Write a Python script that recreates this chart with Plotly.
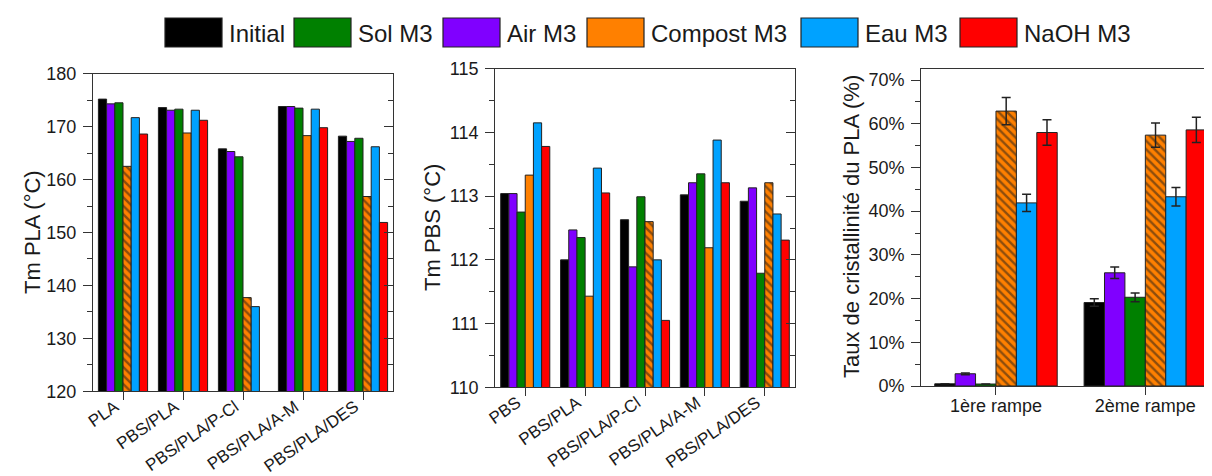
import plotly.graph_objects as go

# ---------------- data ----------------
series_bar_order = ["Initial", "Air M3", "Sol M3", "Compost M3", "Eau M3", "NaOH M3"]
series_legend_order = ["Initial", "Sol M3", "Air M3", "Compost M3", "Eau M3", "NaOH M3"]

# Panel 1 : Tm PLA (°C)
categories_pla = ["PLA", "PBS/PLA", "PBS/PLA/P-Cl", "PBS/PLA/A-M", "PBS/PLA/DES"]
tm_pla_initial = [175.2, 173.6, 165.8, 173.8, 168.2]
tm_pla_air = [174.3, 173.1, 165.3, 173.8, 167.2]
tm_pla_sol = [174.5, 173.3, 164.3, 173.5, 167.8]
tm_pla_compost = [162.5, 168.8, 137.7, 168.3, 156.8]
tm_pla_eau = [171.7, 173.1, 136.0, 173.3, 166.2]
tm_pla_naoh = [168.6, 171.2, None, 169.8, 151.9]
tm_pla_compost_hatched = [True, False, True, False, True]

# Panel 2 : Tm PBS (°C)
categories_pbs = ["PBS", "PBS/PLA", "PBS/PLA/P-Cl", "PBS/PLA/A-M", "PBS/PLA/DES"]
tm_pbs_initial = [113.04, 112.00, 112.63, 113.02, 112.92]
tm_pbs_air = [113.04, 112.47, 111.89, 113.21, 113.13]
tm_pbs_sol = [112.75, 112.35, 112.99, 113.35, 111.79]
tm_pbs_compost = [113.33, 111.43, 112.60, 112.19, 113.21]
tm_pbs_eau = [114.15, 113.44, 112.00, 113.88, 112.72]
tm_pbs_naoh = [113.78, 113.05, 111.05, 113.21, 112.31]
tm_pbs_compost_hatched = [False, False, True, False, True]

# Panel 3 : Taux de cristallinité du PLA (%)
ramps = ["1ère rampe", "2ème rampe"]
xc_initial = [0.5, 19.1]
xc_initial_err = [None, 0.85]
xc_air = [2.8, 25.9]
xc_air_err = [0.2, 1.3]
xc_sol = [0.45, 20.3]
xc_sol_err = [None, 1.0]
xc_compost = [62.9, 57.4]
xc_compost_err = [3.1, 2.8]
xc_eau = [41.9, 43.3]
xc_eau_err = [2.0, 2.1]
xc_naoh = [58.0, 58.6]
xc_naoh_err = [2.9, 2.9]
xc_compost_hatched = [True, True]

# ---------------- style ----------------
W, H = 1212, 476
FONT = "Liberation Sans, Arial, sans-serif"
TXT = "#1a1a1a"
AX = "#333333"
colors = {
    "Initial": "#000000",
    "Sol M3": "#008000",
    "Air M3": "#8000FF",
    "Compost M3": "#FF8000",
    "Eau M3": "#00A2FF",
    "NaOH M3": "#FF0000",
}


def px(x):
    return x / W


def py(y):
    return 1 - y / H


panel1 = {
    "Initial": tm_pla_initial, "Air M3": tm_pla_air, "Sol M3": tm_pla_sol,
    "Compost M3": tm_pla_compost, "Eau M3": tm_pla_eau, "NaOH M3": tm_pla_naoh,
}
panel2 = {
    "Initial": tm_pbs_initial, "Air M3": tm_pbs_air, "Sol M3": tm_pbs_sol,
    "Compost M3": tm_pbs_compost, "Eau M3": tm_pbs_eau, "NaOH M3": tm_pbs_naoh,
}
panel3 = {
    "Initial": (xc_initial, xc_initial_err), "Air M3": (xc_air, xc_air_err),
    "Sol M3": (xc_sol, xc_sol_err), "Compost M3": (xc_compost, xc_compost_err),
    "Eau M3": (xc_eau, xc_eau_err), "NaOH M3": (xc_naoh, xc_naoh_err),
}


def marker_for(name, hatched=None):
    m = dict(color=colors[name], line=dict(color="#222222", width=1))
    if name == "Compost M3" and hatched is not None:
        m["pattern"] = dict(
            shape=["\\" if h else "" for h in hatched],
            fgcolor="#1a1a1a",
            fillmode="overlay",
            size=6,
            solidity=0.4,
        )
    return m


fig = go.Figure()

for name in series_bar_order:
    fig.add_trace(go.Bar(
        x=categories_pla, y=panel1[name], name=name, xaxis="x", yaxis="y",
        marker=marker_for(name, tm_pla_compost_hatched), showlegend=False,
    ))
for name in series_bar_order:
    fig.add_trace(go.Bar(
        x=categories_pbs, y=panel2[name], name=name, xaxis="x2", yaxis="y2",
        marker=marker_for(name, tm_pbs_compost_hatched), showlegend=False,
    ))
for name in series_bar_order:
    vals, errs = panel3[name]
    fig.add_trace(go.Bar(
        x=ramps, y=vals, name=name, xaxis="x3", yaxis="y3",
        marker=marker_for(name, xc_compost_hatched), showlegend=False,
        error_y=dict(type="data", array=errs, color="#222222", thickness=1.5, width=4.5),
    ))


def xaxis(domain, anchor, angle, size, standoff, shift=0):
    return dict(
        domain=domain, anchor=anchor, type="category",
        showline=True, mirror=True, linecolor=AX, linewidth=1.3,
        ticks="outside", ticklen=8, tickcolor=AX, tickwidth=1.3,
        tickangle=angle, tickfont=dict(size=size, color=TXT, family=FONT),
        ticklabelstandoff=standoff, ticklabelshift=shift,
        showgrid=False, zeroline=False, automargin=False,
    )


def yaxis(domain, anchor, rng, dtick, suffix=""):
    return dict(
        domain=domain, anchor=anchor, range=rng, dtick=dtick, tick0=rng[0],
        showline=True, linecolor=AX, linewidth=1.3,
        ticks="outside", ticklen=9, tickcolor=AX, tickwidth=1.3,
        minor=dict(ticks="outside", ticklen=5, dtick=dtick / 2, tick0=rng[0],
                   tickcolor=AX, tickwidth=1.3, showgrid=False),
        ticksuffix=suffix, ticklabelstandoff=3,
        tickfont=dict(size=18, color=TXT, family=FONT),
        showgrid=False, zeroline=False, automargin=False,
    )


def yaxis_right(over, anchor, rng, dtick):
    return dict(
        overlaying=over, anchor=anchor, side="right", range=rng,
        dtick=dtick, tick0=rng[0],
        showline=True, linecolor=AX, linewidth=1.3,
        ticks="inside", ticklen=9, tickcolor=AX, tickwidth=1.3,
        minor=dict(ticks="inside", ticklen=5, dtick=dtick / 2, tick0=rng[0],
                   tickcolor=AX, tickwidth=1.3, showgrid=False),
        showticklabels=False, showgrid=False, zeroline=False, automargin=False,
    )


r1, r2, r3 = [120, 180], [110, 115], [0, 72.6]

# dummy empty traces so the mirrored right-hand axes render
for ya, xa in (("y4", "x"), ("y5", "x2"), ("y6", "x3")):
    fig.add_trace(go.Scatter(x=[], y=[], xaxis=xa, yaxis=ya, showlegend=False, hoverinfo="skip"))

fig.update_layout(
    width=W, height=H, autosize=False,
    margin=dict(l=0, r=0, t=0, b=0),
    paper_bgcolor="white", plot_bgcolor="white",
    font=dict(family=FONT, color=TXT),
    barmode="group", bargap=0.18, bargroupgap=0,
    showlegend=False,
    xaxis=xaxis([px(85), px(385)], "y", -35, 17, -10, -8),
    yaxis=yaxis([py(383.3), py(65.7)], "x", r1, 10),
    yaxis4=yaxis_right("y", "x", r1, 10),
    xaxis2=xaxis([px(487.3), px(786.7)], "y2", -35, 17, -10, -8),
    yaxis2=yaxis([py(379.3), py(60.7)], "x2", r2, 1),
    yaxis5=yaxis_right("y2", "x2", r2, 1),
    xaxis3=xaxis([px(913.3), 1.0], "y3", 0, 18, -5),
    yaxis3=yaxis([py(378), py(60.7)], "x3", r3, 10, "%"),
    yaxis6=yaxis_right("y3", "x3", r3, 10),
)
fig.update_xaxes(range=[-0.5, 4.5], selector=dict(anchor="y"))
fig.update_xaxes(range=[-0.5, 4.5], selector=dict(anchor="y2"))
fig.update_xaxes(range=[-0.5, 1.5], selector=dict(anchor="y3"))

# axis titles
titles = [
    ("Tm PLA (°C)", 24, 224),
    ("Tm PBS (°C)", 424, 220),
    ("Taux de cristallinité du PLA (%)", 844, 219),
]
for text, x, y in titles:
    fig.add_annotation(
        text=text, x=px(x), y=py(y), xref="paper", yref="paper",
        textangle=-90, showarrow=False, xanchor="center", yanchor="middle",
        font=dict(size=22, color=TXT, family=FONT),
    )

# custom legend (large swatches, as in the original)
legend_swatch_x = [157, 286, 435, 579, 793, 952]
for name, sx in zip(series_legend_order, legend_swatch_x):
    fig.add_shape(
        type="rect", xref="paper", yref="paper",
        x0=px(sx), x1=px(sx + 57), y0=py(39), y1=py(10),
        fillcolor=colors[name], line=dict(color="#222222", width=1.2),
    )
    fig.add_annotation(
        text=name, x=px(sx + 62), y=py(25), xref="paper", yref="paper",
        showarrow=False, xanchor="left", yanchor="middle",
        font=dict(size=24, color=TXT, family=FONT),
    )

fig.write_html("out.html")
